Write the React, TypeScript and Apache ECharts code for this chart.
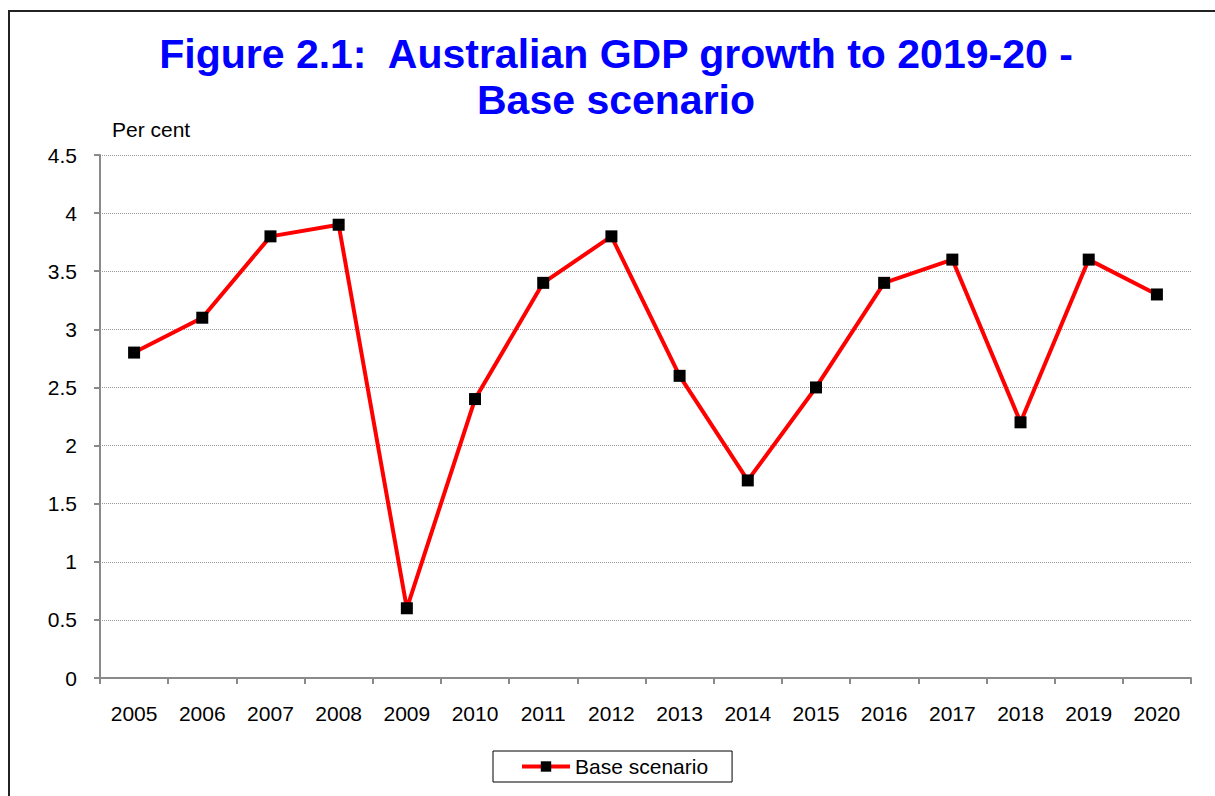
import React, { useEffect, useRef } from "react";
import * as echarts from "echarts";

const years = ["2005", "2006", "2007", "2008", "2009", "2010", "2011", "2012", "2013", "2014", "2015", "2016", "2017", "2018", "2019", "2020"];
const baseScenario = [2.8, 3.1, 3.8, 3.9, 0.6, 2.4, 3.4, 3.8, 2.6, 1.7, 2.5, 3.4, 3.6, 2.2, 3.6, 3.3];
const titleText = "Figure 2.1:  Australian GDP growth to 2019-20 -\nBase scenario";
const yAxisTitle = "Per cent";
const seriesName = "Base scenario";

const FONT = "'Liberation Sans', Arial, sans-serif";

export default function App() {
  const ref = useRef<HTMLDivElement>(null);
  useEffect(() => {
    if (!ref.current) return;
    const chart = echarts.init(ref.current, undefined, { renderer: "svg" });
    chart.setOption({
      animation: false,
      backgroundColor: "#ffffff",
      title: {
        text: titleText,
        left: 616,
        top: 31,
        padding: 0,
        textAlign: "center",
        textStyle: {
          fontFamily: FONT,
          fontSize: 41,
          fontWeight: "bold",
          color: "#0000FF",
          lineHeight: 46,
        },
      },
      graphic: [
        {
          type: "rect",
          shape: { x: 9, y: 11, width: 1230, height: 800 },
          style: { fill: "none", stroke: "#222", lineWidth: 2 },
          silent: true,
        },
        {
          type: "text",
          left: 112,
          top: 119,
          style: { text: yAxisTitle, font: `21px ${FONT}`, fill: "#000" },
        },
      ],
      legend: {
        left: 493,
        top: 751,
        padding: [5, 24, 5, 27],
        borderColor: "#000",
        borderWidth: 1,
        itemWidth: 48,
        itemHeight: 13,
        itemGap: 5,
        lineStyle: { width: 4, color: "#FF0000" },
        itemStyle: { color: "#000000" },
        textStyle: { fontFamily: FONT, fontSize: 21, color: "#000" },
        data: [seriesName],
      },
      grid: { left: 100, right: 24, top: 155, bottom: 118 },
      xAxis: {
        type: "category",
        data: years,
        boundaryGap: true,
        axisLine: { lineStyle: { color: "#8a8a8a", width: 2 } },
        axisTick: { show: true, length: 6, lineStyle: { color: "#8a8a8a", width: 2 } },
        axisLabel: { fontFamily: FONT, fontSize: 21, color: "#000", margin: 25 },
      },
      yAxis: {
        type: "value",
        min: 0,
        max: 4.5,
        interval: 0.5,
        axisLine: { show: true, lineStyle: { color: "#8a8a8a", width: 2 } },
        axisTick: { show: true, length: 6, lineStyle: { color: "#8a8a8a", width: 2 } },
        axisLabel: { fontFamily: FONT, fontSize: 21, color: "#000", margin: 23 },
        splitLine: { show: true, lineStyle: { color: "#999", width: 1, type: [1, 1] } },
      },
      series: [
        {
          name: seriesName,
          type: "line",
          data: baseScenario,
          symbol: "rect",
          symbolSize: 12,
          lineStyle: { color: "#FF0000", width: 4 },
          itemStyle: { color: "#000000" },
          z: 3,
        },
      ],
    });
    return () => chart.dispose();
  }, []);
  return (
    <div
      ref={ref}
      style={{ position: "fixed", left: 0, top: 0, width: 1215, height: 796 }}
    />
  );
}
